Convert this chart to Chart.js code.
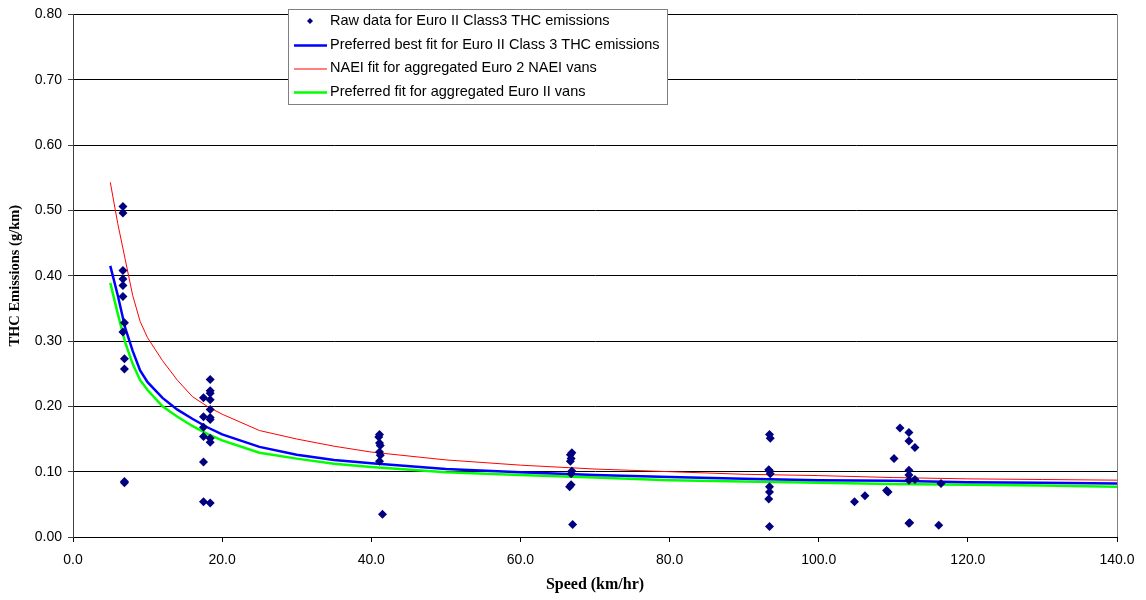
<!DOCTYPE html>
<html>
<head>
<meta charset="utf-8">
<script src="https://cdn.jsdelivr.net/npm/chart.js@4"></script>
<style>
html, body { margin: 0; padding: 0; background: #fff; }
</style>
</head>
<body>
<canvas id="chart" width="1146" height="600"></canvas>
<script>
// raw measurements (speed km/hr, THC g/km)
const rawSpeed = [
  6.7, 6.7, 6.7, 6.7, 6.7, 6.7, 6.9, 6.7, 6.9, 6.9, 6.9, 6.9,
  17.5, 17.5, 17.5, 17.5, 17.5, 17.5,
  18.4, 18.4, 18.4, 18.4, 18.4, 18.4, 18.4, 18.4, 18.4, 18.4,
  41.1, 41.0, 41.1, 41.2, 41.1, 41.2, 41.1, 41.5,
  66.9, 66.7, 66.8, 66.7, 66.9, 66.8, 66.8, 66.6, 67.0,
  93.4, 93.5, 93.3, 93.4, 93.5, 93.4, 93.4, 93.3, 93.4,
  104.8, 106.2, 109.1, 109.3, 110.1, 110.9, 112.1, 112.1, 112.9,
  112.1, 112.1, 112.1, 112.9, 112.1, 112.2, 116.4, 116.1
];
const rawThc = [
  0.506, 0.496, 0.408, 0.395, 0.385, 0.368, 0.328, 0.314, 0.273, 0.257, 0.085, 0.083,
  0.213, 0.184, 0.168, 0.154, 0.115, 0.054,
  0.241, 0.224, 0.220, 0.210, 0.195, 0.183, 0.180, 0.151, 0.145, 0.052,
  0.157, 0.153, 0.144, 0.140, 0.130, 0.125, 0.116, 0.035,
  0.129, 0.126, 0.120, 0.116, 0.101, 0.097, 0.080, 0.077, 0.019,
  0.157, 0.151, 0.103, 0.101, 0.097, 0.077, 0.069, 0.058, 0.016,
  0.054, 0.063, 0.071, 0.069, 0.120, 0.167, 0.160, 0.147, 0.137,
  0.102, 0.095, 0.087, 0.088, 0.021, 0.022, 0.082, 0.018
];

// fitted curves
const fitSpeed = [5, 6, 7, 8, 9, 10, 12, 14, 16, 18, 20, 25, 30, 35, 40, 50, 60, 70, 80, 90, 100, 110, 120, 130, 140];
const bestFit = [0.415, 0.370, 0.320, 0.285, 0.255, 0.237, 0.213, 0.195, 0.181, 0.168, 0.157, 0.138, 0.126, 0.118, 0.113, 0.104, 0.099, 0.095, 0.092, 0.089, 0.087, 0.086, 0.084, 0.083, 0.082];
const naeiFit = [0.543, 0.480, 0.425, 0.370, 0.330, 0.305, 0.270, 0.240, 0.215, 0.200, 0.188, 0.163, 0.150, 0.139, 0.130, 0.118, 0.110, 0.104, 0.100, 0.096, 0.094, 0.091, 0.089, 0.088, 0.087];
const vansFit = [0.389, 0.342, 0.298, 0.265, 0.240, 0.225, 0.200, 0.184, 0.170, 0.158, 0.148, 0.129, 0.120, 0.112, 0.107, 0.099, 0.095, 0.091, 0.087, 0.085, 0.083, 0.081, 0.080, 0.079, 0.077];

const toPoints = (xs, ys) => xs.map((x, i) => ({ x: x, y: ys[i] }));

const tickFont = { family: "'Liberation Sans', Arial, sans-serif", size: 14 };
const serif = "'Liberation Serif', 'Times New Roman', serif";

// legend box drawn inside the plot, like the original
const boxLegend = {
  id: "boxLegend",
  beforeDatasetsDraw(chart) {
    const ctx = chart.ctx, a = chart.chartArea;
    ctx.save();
    ctx.strokeStyle = "#808080";
    ctx.lineWidth = 1;
    ctx.beginPath();
    ctx.moveTo(Math.round(a.right) + 0.5, a.top);
    ctx.lineTo(Math.round(a.right) + 0.5, a.bottom);
    ctx.stroke();
    ctx.restore();
  },
  afterDraw(chart) {
    const ctx = chart.ctx, a = chart.chartArea;
    const x0 = Math.round(a.left) + 215, y0 = 9, w = 379, h = 95;
    ctx.save();
    ctx.fillStyle = "#fff";
    ctx.fillRect(x0, y0, w, h);
    ctx.strokeStyle = "#808080";
    ctx.lineWidth = 1;
    ctx.strokeRect(x0 + 0.5, y0 + 0.5, w, h);
    ctx.font = "14.5px 'Liberation Sans', Arial, sans-serif";
    ctx.textBaseline = "middle";
    chart.data.datasets.forEach((ds, i) => {
      const y = y0 + 12 + i * 23.5;
      if (ds.showLine === false) {
        ctx.fillStyle = ds.backgroundColor;
        ctx.beginPath();
        ctx.moveTo(x0 + 22, y - 3);
        ctx.lineTo(x0 + 25, y);
        ctx.lineTo(x0 + 22, y + 3);
        ctx.lineTo(x0 + 19, y);
        ctx.closePath();
        ctx.fill();
      } else {
        ctx.strokeStyle = ds.borderColor;
        ctx.lineWidth = ds.borderWidth;
        ctx.beginPath();
        ctx.moveTo(x0 + 6, y + 1);
        ctx.lineTo(x0 + 39, y + 1);
        ctx.stroke();
      }
      ctx.fillStyle = "#000";
      ctx.fillText(ds.label, x0 + 42, y);
    });
    ctx.restore();
  }
};

new Chart(document.getElementById("chart"), {
  type: "scatter",
  data: {
    datasets: [
      {
        label: "Raw data for Euro II Class3 THC emissions",
        data: toPoints(rawSpeed, rawThc),
        showLine: false,
        pointStyle: "rectRot",
        pointRadius: 4.5,
        backgroundColor: "#000080",
        borderColor: "#000080",
        borderWidth: 0
      },
      {
        label: "Preferred best fit for Euro II Class 3 THC emissions",
        data: toPoints(fitSpeed, bestFit),
        showLine: true,
        pointRadius: 0,
        borderColor: "#0000ff",
        borderWidth: 2.5,
        tension: 0
      },
      {
        label: "NAEI fit for aggregated Euro 2 NAEI vans",
        data: toPoints(fitSpeed, naeiFit),
        showLine: true,
        pointRadius: 0,
        borderColor: "#ff0000",
        borderWidth: 1,
        tension: 0
      },
      {
        label: "Preferred fit for aggregated Euro II vans",
        data: toPoints(fitSpeed, vansFit),
        showLine: true,
        pointRadius: 0,
        borderColor: "#00ff00",
        borderWidth: 2.5,
        tension: 0
      }
    ]
  },
  options: {
    responsive: false,
    animation: false,
    layout: { padding: { top: 12, right: 29, left: 0, bottom: 0 } },
    plugins: {
      legend: { display: false },
      tooltip: { enabled: false }
    },
    scales: {
      x: {
        type: "linear",
        min: 0,
        max: 140,
        afterFit: s => { s.height = 63; },
        ticks: {
          stepSize: 20,
          color: "#000",
          font: tickFont,
          padding: 10,
          callback: v => v.toFixed(1)
        },
        grid: { drawOnChartArea: false, drawTicks: true, tickLength: 5, color: "#000" },
        border: { color: "#000", width: 1 },
        title: {
          display: true, text: "Speed (km/hr)", color: "#000",
          font: { family: serif, size: 16, weight: "bold" },
          padding: { top: 0, bottom: 6 }
        }
      },
      y: {
        min: 0,
        max: 0.8,
        afterFit: s => { s.width = 73; },
        ticks: {
          stepSize: 0.1,
          color: "#000",
          font: tickFont,
          padding: 6,
          callback: v => v.toFixed(2)
        },
        grid: { color: "#000", lineWidth: 1, drawTicks: true, tickLength: 5, tickColor: "#404040" },
        border: { color: "#404040", width: 1 },
        title: {
          display: true, text: "THC Emissions (g/km)", color: "#000",
          font: { family: serif, size: 14.5, weight: "bold" },
          padding: { top: 7, bottom: 0 }
        }
      }
    }
  },
  plugins: [boxLegend]
});
</script>
</body>
</html>
